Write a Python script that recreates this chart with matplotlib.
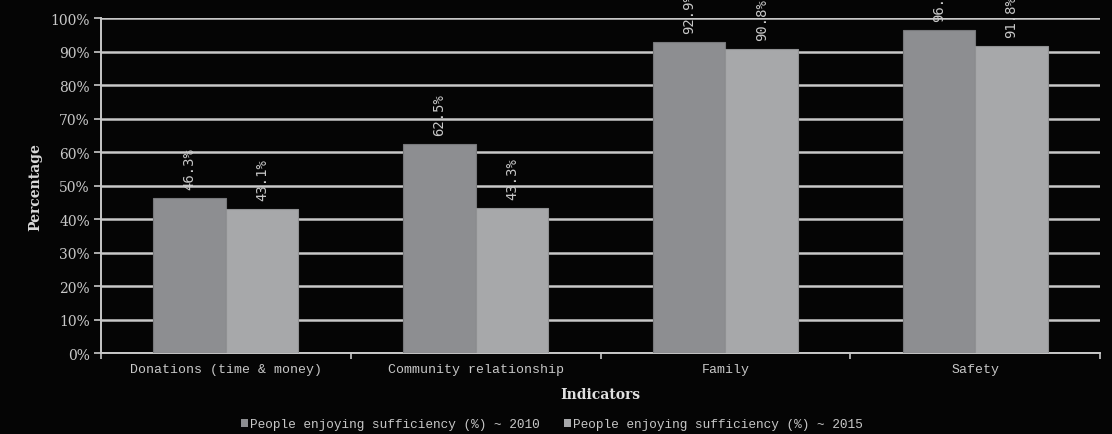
import matplotlib
matplotlib.use("Agg")
import matplotlib.pyplot as plt
import numpy as np
from matplotlib.patches import Patch

categories = ["Donations (time & money)", "Community relationship", "Family", "Safety"]
values_2010 = [46.3, 62.5, 92.9, 96.4]
values_2015 = [43.1, 43.3, 90.8, 91.8]
series_names = ["People enjoying sufficiency (%) ~ 2010",
                "People enjoying sufficiency (%) ~ 2015"]
yticks = [0, 10, 20, 30, 40, 50, 60, 70, 80, 90, 100]

bg = "#050505"
c2010 = "#8d8e91"
c2015 = "#a7a8aa"
txt = "#c8c8c8"
serif = ["DejaVu Serif"]
mono = ["Liberation Mono", "DejaVu Sans Mono"]

fig = plt.figure(figsize=(11.12, 4.35), dpi=100, facecolor=bg)
ax = fig.add_axes([0.0908, 0.186, 0.8985, 0.770])
ax.set_facecolor(bg)

x = np.arange(len(categories))
w = 0.29
b1 = ax.bar(x - w / 2, values_2010, w, color=c2010, edgecolor="#77787b", linewidth=0.8, zorder=3)
b2 = ax.bar(x + w / 2, values_2015, w, color=c2015, edgecolor="#909193", linewidth=0.8, zorder=3)

# rotated value labels above each bar (top ones run off the canvas, as in the original)
for bars, vals in ((b1, values_2010), (b2, values_2015)):
    for r, v in zip(bars, vals):
        ax.text(r.get_x() + r.get_width() / 2, v + 2.6, f"{v:.1f}%",
                rotation=90, ha="center", va="bottom", color=txt,
                fontsize=10, family="DejaVu Sans Mono", clip_on=False, zorder=4)

ax.set_xlim(-0.5, len(categories) - 0.5)
ax.set_ylim(0, 100)
ax.set_yticks(yticks)
ax.set_yticklabels([f"{t}%" for t in yticks], family=serif, fontsize=10, color=txt)
ax.set_xticks(x)
ax.set_xticklabels(categories, family=mono, fontsize=9.5, color=txt)
ax.set_xticks(np.arange(len(categories) + 1) - 0.5, minor=True)
ax.grid(axis="y", color="#c8c8c8", linewidth=1.8, zorder=0)
ax.tick_params(axis="y", length=5, width=1.2, color="#c8c8c8", pad=3)
ax.tick_params(axis="x", which="major", length=0, pad=7)
ax.tick_params(axis="x", which="minor", length=4, width=1.2, color="#c8c8c8")
for s in ("top", "right"):
    ax.spines[s].set_visible(False)
for s in ("left", "bottom"):
    ax.spines[s].set_color("#c8c8c8")
    ax.spines[s].set_linewidth(1.4)

ax.set_ylabel("Percentage", family=serif, fontweight="bold",
              fontsize=10, color="#dadada", labelpad=6)
ax.set_xlabel("Indicators", family=serif, fontweight="bold",
              fontsize=10, color="#e0e0e0", labelpad=9)

handles = [Patch(facecolor=c2010), Patch(facecolor=c2015)]
leg = fig.legend(handles, series_names, loc="center", bbox_to_anchor=(0.496, 0.022),
                 ncol=2, frameon=False, handlelength=0.6, handleheight=0.6,
                 handletextpad=0.1, columnspacing=1.9,
                 prop={"family": mono, "size": 9.2})
for t in leg.get_texts():
    t.set_color(txt)

fig.savefig("out.png", dpi=100, facecolor=bg)
